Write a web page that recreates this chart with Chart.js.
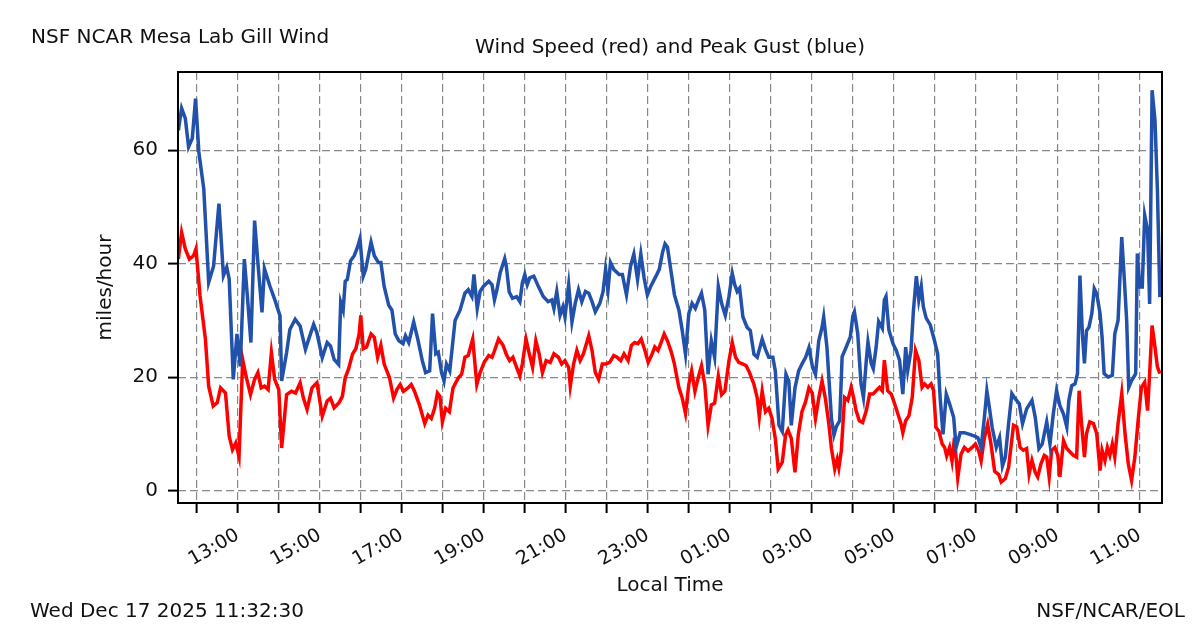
<!DOCTYPE html>
<html>
<head>
<meta charset="utf-8">
<title>NSF NCAR Mesa Lab Gill Wind</title>
<script src="https://cdn.jsdelivr.net/npm/chart.js@4.4.1/dist/chart.umd.min.js"></script>
<style>
  body { margin: 0; background: #fff; }
  #wrap { position: relative; width: 1200px; height: 633px; font-family: "DejaVu Sans", sans-serif; color: #111; }
  #wrap canvas { position: absolute; left: 0; top: 0; }
  .lbl { position: absolute; font-size: 20px; line-height: 24px; white-space: nowrap; }
</style>
</head>
<body>
<div id="wrap">
  <canvas id="windChart" width="1200" height="633"></canvas>
  <div class="lbl" style="left:31px; top:24px;">NSF NCAR Mesa Lab Gill Wind</div>
  <div class="lbl" style="left:178px; width:984px; top:34px; text-align:center;">Wind Speed (red) and Peak Gust (blue)</div>
  <div class="lbl" style="left:30px; top:598px;">Wed Dec 17 2025 11:32:30</div>
  <div class="lbl" style="right:15px; top:598px;">NSF/NCAR/EOL</div>
</div>
<script>
// time axis in hours since midnight Dec 16 (values > 24 are Dec 17)
const startHour = 11 + 32.5 / 60;
const endHour = startHour + 24;
const hourTicks = [12, 13, 14, 15, 16, 17, 18, 19, 20, 21, 22, 23,
                   24, 25, 26, 27, 28, 29, 30, 31, 32, 33, 34, 35];
const mphTicks = [0, 20, 40, 60];

// peak gust (blue)
const gustHours = [11.55, 11.63, 11.72, 11.80, 11.89, 11.97, 12.05, 12.17, 12.29, 12.41,
  12.54, 12.65, 12.73, 12.79, 12.89, 12.98, 13.06, 13.16, 13.24, 13.32,
  13.41, 13.49, 13.59, 13.65, 13.78, 13.90, 14.03, 14.07, 14.19, 14.27,
  14.40, 14.52, 14.65, 14.73, 14.85, 14.93, 15.06, 15.18, 15.26, 15.35,
  15.46, 15.51, 15.57, 15.62, 15.67, 15.75, 15.84, 15.92, 15.98, 16.06,
  16.12, 16.25, 16.33, 16.43, 16.49, 16.57, 16.68, 16.76, 16.84, 16.93,
  17.03, 17.09, 17.17, 17.29, 17.39, 17.50, 17.58, 17.68, 17.75, 17.83,
  17.89, 17.97, 18.03, 18.09, 18.17, 18.30, 18.42, 18.54, 18.62, 18.71,
  18.76, 18.84, 18.91, 18.99, 19.12, 19.20, 19.26, 19.32, 19.40, 19.51,
  19.55, 19.62, 19.70, 19.80, 19.88, 19.94, 20.00, 20.06, 20.12, 20.22,
  20.33, 20.45, 20.57, 20.66, 20.71, 20.78, 20.86, 20.93, 20.98, 21.07,
  21.15, 21.23, 21.31, 21.39, 21.48, 21.56, 21.64, 21.72, 21.83, 21.91,
  21.97, 22.03, 22.09, 22.17, 22.30, 22.38, 22.48, 22.58, 22.66, 22.75,
  22.83, 22.91, 22.99, 23.07, 23.20, 23.28, 23.36, 23.42, 23.48, 23.57,
  23.65, 23.76, 23.84, 23.92, 24.00, 24.08, 24.16, 24.24, 24.31, 24.39,
  24.47, 24.55, 24.63, 24.72, 24.80, 24.89, 24.98, 25.06, 25.12, 25.18,
  25.24, 25.32, 25.42, 25.50, 25.59, 25.67, 25.79, 25.87, 25.95, 26.05,
  26.11, 26.20, 26.28, 26.37, 26.44, 26.50, 26.59, 26.68, 26.76, 26.85,
  26.93, 27.02, 27.09, 27.17, 27.25, 27.29, 27.37, 27.48, 27.54, 27.60,
  27.68, 27.74, 27.84, 27.94, 28.00, 28.04, 28.12, 28.20, 28.26, 28.33,
  28.37, 28.45, 28.50, 28.57, 28.63, 28.72, 28.77, 28.81, 28.88, 28.98,
  29.06, 29.14, 29.22, 29.29, 29.34, 29.42, 29.48, 29.55, 29.61, 29.67,
  29.72, 29.79, 29.89, 29.99, 30.07, 30.13, 30.20, 30.28, 30.36, 30.46,
  30.52, 30.62, 30.72, 30.85, 30.97, 31.05, 31.13, 31.21, 31.27, 31.33,
  31.40, 31.50, 31.58, 31.65, 31.72, 31.80, 31.88, 31.96, 32.06, 32.14,
  32.24, 32.37, 32.45, 32.54, 32.62, 32.73, 32.81, 32.89, 32.97, 33.05,
  33.14, 33.22, 33.27, 33.34, 33.42, 33.48, 33.54, 33.60, 33.65, 33.70,
  33.76, 33.83, 33.89, 33.95, 34.03, 34.08, 34.13, 34.23, 34.33, 34.39,
  34.47, 34.56, 34.62, 34.68, 34.73, 34.80, 34.90, 34.94, 35.00, 35.06,
  35.12, 35.19, 35.24, 35.30, 35.37, 35.43, 35.49];
const gustMph = [63.5, 67.4, 65.6, 60.6, 62.1, 69.1, 59.7, 53.2, 36.7, 39.6,
  50.6, 37.9, 39.4, 37.3, 19.6, 27.6, 21.9, 40.8, 33.7, 26.1,
  47.6, 40.2, 31.4, 39.1, 36.1, 33.7, 30.8, 19.3, 24.3, 28.4,
  30.2, 29.0, 24.9, 26.7, 29.3, 27.8, 23.4, 26.1, 25.5, 23.1,
  22.2, 33.2, 31.8, 36.9, 37.2, 40.5, 41.4, 42.9, 44.4, 37.8,
  39.0, 43.8, 41.4, 40.2, 40.2, 36.0, 32.7, 31.8, 27.6, 26.4,
  25.9, 27.3, 26.1, 29.7, 26.7, 22.9, 20.8, 21.1, 31.2, 24.1,
  24.4, 20.8, 19.3, 22.3, 21.1, 30.0, 31.8, 34.8, 35.4, 34.2,
  38.1, 32.1, 35.1, 36.0, 36.9, 36.3, 33.6, 35.4, 38.4, 40.9,
  39.5, 35.0, 33.9, 34.2, 33.3, 36.6, 38.1, 36.3, 37.5, 37.8,
  36.0, 34.2, 33.3, 33.6, 32.1, 35.1, 30.9, 32.4, 30.6, 36.3,
  29.7, 33.0, 35.4, 33.3, 35.1, 34.8, 33.3, 31.5, 33.0, 35.1,
  39.0, 35.4, 40.2, 39.0, 38.1, 38.1, 34.5, 39.6, 41.7, 37.2,
  41.7, 37.5, 34.5, 36.0, 37.8, 39.0, 42.0, 43.5, 42.9, 38.5,
  34.5, 31.8, 28.2, 24.0, 31.2, 33.0, 32.1, 33.6, 34.8, 31.8,
  20.5, 26.4, 23.5, 36.0, 33.0, 30.9, 34.2, 38.3, 36.3, 35.1,
  35.7, 30.6, 28.8, 28.2, 24.0, 23.5, 26.7, 24.9, 23.5, 23.5,
  21.1, 11.5, 10.4, 20.5, 19.3, 11.5, 18.1, 21.1, 22.3, 23.5,
  25.2, 21.7, 20.5, 26.4, 28.8, 30.6, 25.2, 12.7, 9.8, 11.3,
  12.3, 23.6, 25.3, 27.1, 30.7, 31.5, 27.7, 18.8, 16.4, 23.0,
  26.2, 22.4, 21.5, 25.3, 29.8, 28.6, 33.6, 34.2, 28.3, 25.9,
  24.7, 23.0, 17.0, 25.3, 21.2, 24.7, 31.8, 37.8, 33.6, 36.0,
  32.4, 30.4, 29.2, 26.5, 24.1, 16.4, 9.9, 17.0, 15.3, 12.9,
  7.6, 10.2, 10.2, 9.9, 9.6, 9.3, 7.6, 12.9, 17.6, 14.7,
  11.1, 7.6, 9.3, 4.3, 5.9, 11.8, 17.1, 16.2, 15.3, 11.8,
  14.4, 15.9, 12.9, 7.4, 8.2, 12.1, 8.2, 13.5, 17.6, 15.0,
  13.5, 11.2, 15.9, 18.5, 18.8, 20.6, 37.9, 27.6, 22.4, 28.2,
  28.8, 31.2, 35.6, 34.7, 31.2, 27.1, 20.6, 20.0, 20.3, 27.6,
  30.0, 44.7, 37.6, 30.0, 18.2, 19.4, 20.6, 41.8, 35.9, 35.9,
  48.5, 45.9, 32.9, 70.6, 65.3, 52.9, 34.1];

// wind speed (red)
const speedHours = [11.55, 11.63, 11.72, 11.82, 11.92, 11.98, 12.08, 12.21, 12.29, 12.40,
  12.50, 12.58, 12.70, 12.79, 12.87, 12.95, 13.03, 13.12, 13.20, 13.31,
  13.41, 13.49, 13.57, 13.65, 13.74, 13.82, 13.90, 14.00, 14.07, 14.19,
  14.31, 14.41, 14.52, 14.60, 14.69, 14.81, 14.93, 15.06, 15.18, 15.26,
  15.35, 15.47, 15.55, 15.62, 15.70, 15.80, 15.88, 15.96, 16.00, 16.06,
  16.14, 16.25, 16.33, 16.41, 16.49, 16.57, 16.70, 16.80, 16.88, 16.96,
  17.04, 17.15, 17.23, 17.31, 17.43, 17.56, 17.64, 17.72, 17.80, 17.87,
  17.93, 17.99, 18.07, 18.16, 18.25, 18.38, 18.46, 18.54, 18.62, 18.73,
  18.83, 18.91, 19.01, 19.12, 19.20, 19.25, 19.36, 19.47, 19.55, 19.63,
  19.71, 19.80, 19.88, 19.94, 20.03, 20.11, 20.19, 20.27, 20.35, 20.43,
  20.52, 20.62, 20.71, 20.82, 20.90, 20.98, 21.07, 21.11, 21.19, 21.27,
  21.35, 21.43, 21.56, 21.64, 21.72, 21.80, 21.89, 21.97, 22.07, 22.17,
  22.25, 22.34, 22.42, 22.52, 22.60, 22.68, 22.76, 22.84, 22.93, 23.01,
  23.09, 23.17, 23.25, 23.34, 23.40, 23.48, 23.57, 23.65, 23.68, 23.76,
  23.84, 23.92, 24.00, 24.07, 24.15, 24.23, 24.31, 24.39, 24.47, 24.55,
  24.63, 24.72, 24.80, 24.88, 24.98, 25.06, 25.14, 25.22, 25.32, 25.40,
  25.48, 25.59, 25.67, 25.72, 25.79, 25.87, 25.95, 26.03, 26.11, 26.18,
  26.28, 26.36, 26.42, 26.50, 26.59, 26.67, 26.76, 26.85, 26.93, 27.01,
  27.09, 27.17, 27.25, 27.33, 27.42, 27.48, 27.56, 27.62, 27.66, 27.72,
  27.80, 27.88, 27.96, 28.02, 28.08, 28.16, 28.24, 28.33, 28.41, 28.49,
  28.57, 28.65, 28.72, 28.77, 28.85, 28.94, 29.02, 29.10, 29.18, 29.22,
  29.29, 29.37, 29.45, 29.53, 29.61, 29.69, 29.75, 29.83, 29.91, 29.97,
  30.03, 30.10, 30.18, 30.24, 30.29, 30.36, 30.42, 30.48, 30.56, 30.64,
  30.72, 30.81, 30.91, 30.99, 31.07, 31.13, 31.21, 31.29, 31.37, 31.46,
  31.56, 31.62, 31.72, 31.80, 31.92, 32.00, 32.08, 32.16, 32.24, 32.30,
  32.37, 32.45, 32.51, 32.59, 32.67, 32.73, 32.79, 32.85, 32.93, 33.00,
  33.05, 33.14, 33.22, 33.30, 33.38, 33.46, 33.52, 33.58, 33.65, 33.70,
  33.78, 33.87, 33.95, 34.03, 34.08, 34.15, 34.21, 34.27, 34.33, 34.39,
  34.47, 34.56, 34.64, 34.72, 34.80, 34.88, 34.96, 35.04, 35.12, 35.19,
  35.24, 35.30, 35.37, 35.43, 35.49];
const speedMph = [40.8, 45.5, 42.6, 40.8, 41.4, 42.6, 34.3, 26.7, 18.4, 14.9,
  15.5, 18.1, 17.2, 9.6, 7.2, 8.4, 6.0, 23.1, 20.2, 16.9,
  19.6, 20.8, 18.1, 18.4, 17.8, 24.3, 19.6, 17.8, 7.5, 16.9,
  17.5, 17.2, 19.0, 16.3, 14.3, 18.1, 19.0, 13.1, 15.8, 16.3,
  14.6, 15.5, 16.6, 19.9, 21.4, 24.1, 25.0, 27.6, 30.9, 25.0,
  25.3, 27.6, 27.0, 23.5, 25.6, 22.3, 19.9, 16.3, 17.8, 18.7,
  17.5, 18.1, 18.7, 17.5, 15.1, 11.8, 13.3, 12.7, 14.5, 17.2,
  16.6, 12.1, 14.5, 13.9, 18.1, 19.9, 20.5, 23.5, 23.8, 26.7,
  18.7, 20.8, 22.6, 23.8, 23.5, 24.4, 26.7, 25.6, 24.0, 22.9,
  23.5, 21.7, 20.2, 22.3, 26.7, 24.1, 21.7, 26.4, 24.1, 20.8,
  22.9, 22.6, 24.1, 23.5, 22.3, 22.9, 21.7, 18.4, 22.3, 24.7,
  22.9, 24.1, 27.3, 24.7, 20.8, 19.6, 22.3, 22.3, 22.6, 23.8,
  23.5, 22.9, 24.1, 22.9, 25.6, 26.1, 25.9, 26.7, 24.7, 22.6,
  23.8, 25.3, 24.7, 26.4, 27.6, 26.4, 24.5, 22.3, 21.1, 18.1,
  16.3, 13.6, 18.7, 21.1, 17.5, 19.9, 22.0, 18.7, 11.5, 15.1,
  15.4, 20.2, 16.9, 17.5, 22.9, 26.1, 23.5, 22.6, 22.3, 22.0,
  20.8, 18.7, 16.3, 13.0, 17.5, 13.9, 14.5, 12.7, 9.2, 3.8,
  5.0, 9.8, 10.7, 9.2, 3.2, 9.8, 13.9, 15.7, 18.1, 17.2,
  12.7, 16.3, 19.3, 16.3, 11.5, 7.4, 3.8, 5.5, 4.0, 7.0,
  16.4, 15.9, 18.2, 16.4, 14.1, 12.3, 12.0, 14.1, 17.0, 17.0,
  17.6, 18.2, 17.6, 23.0, 17.6, 17.0, 15.3, 13.5, 11.7, 10.2,
  12.3, 13.2, 16.4, 24.7, 23.0, 18.2, 18.8, 18.2, 18.8, 17.6,
  11.1, 10.5, 8.2, 7.6, 6.1, 7.6, 5.2, 9.3, 2.2, 6.4,
  7.6, 7.0, 7.6, 8.2, 7.0, 5.2, 9.3, 11.7, 8.2, 3.4,
  2.8, 1.5, 2.1, 4.1, 11.5, 11.2, 7.6, 7.1, 7.4, 2.9,
  5.3, 3.2, 2.4, 4.7, 6.2, 5.9, 2.4, 7.1, 7.6, 6.2,
  2.4, 8.8, 7.4, 6.8, 6.2, 5.9, 17.6, 11.8, 5.9, 10.0,
  12.1, 11.8, 10.0, 3.5, 7.1, 5.3, 7.6, 6.2, 8.2, 5.9,
  11.8, 17.1, 10.0, 4.7, 1.8, 5.9, 12.4, 18.2, 19.1, 14.1,
  20.6, 29.1, 25.3, 21.8, 20.6];

Chart.defaults.font.family = '"DejaVu Sans", sans-serif';
Chart.defaults.font.size = 20;
Chart.defaults.color = '#111';

function hourLabel(h) {
    if (h % 2 === 0) return '';
    return String(h % 24).padStart(2, '0') + ':00';
}

// black box round the plot, like the matplotlib spines
const frame = {
    id: 'frame',
    afterDraw(chart) {
        const { ctx, chartArea: a } = chart;
        ctx.save();
        ctx.strokeStyle = '#000';
        ctx.lineWidth = 2;
        ctx.strokeRect(a.left, a.top, a.right - a.left, a.bottom - a.top);
        ctx.restore();
    }
};

const gridStyle = { color: '#888', lineWidth: 1.2, tickLength: 10, tickColor: '#000', tickWidth: 2 };

const ctx = document.getElementById('windChart').getContext('2d');
new Chart(ctx, {
    type: 'line',
    data: {
        datasets: [
            {
                label: 'Peak Gust',
                data: gustHours.map((h, i) => ({ x: h, y: gustMph[i] })),
                borderColor: '#2151ab',
                borderWidth: 3.5,
                pointRadius: 0,
                tension: 0
            },
            {
                label: 'Wind Speed',
                data: speedHours.map((h, i) => ({ x: h, y: speedMph[i] })),
                borderColor: '#ff0000',
                borderWidth: 3.5,
                pointRadius: 0,
                tension: 0
            }
        ]
    },
    options: {
        responsive: false,
        animation: false,
        layout: { padding: { top: 72, right: 38, left: 0, bottom: 0 } },
        plugins: {
            legend: { display: false },
            tooltip: { enabled: false }
        },
        scales: {
            x: {
                type: 'linear',
                min: startHour,
                max: endHour,
                afterBuildTicks: (axis) => { axis.ticks = hourTicks.map(v => ({ value: v })); },
                afterFit: (axis) => { axis.height = 130; },
                grid: gridStyle,
                border: { display: false, dash: [8, 4] },
                ticks: {
                    autoSkip: false,
                    minRotation: 30,
                    maxRotation: 30,
                    padding: 11,
                    font: { size: 19 },
                    callback: (v) => hourLabel(v)
                },
                title: { display: true, text: 'Local Time', padding: { top: 0, bottom: 35 } }
            },
            y: {
                min: -2.2,
                max: 73.8,
                afterBuildTicks: (axis) => { axis.ticks = mphTicks.map(v => ({ value: v })); },
                afterFit: (axis) => { axis.width = 178; },
                grid: gridStyle,
                border: { display: false, dash: [8, 4] },
                ticks: { padding: 10 },
                title: { display: true, text: 'miles/hour', padding: { top: 94, bottom: 0 } }
            }
        }
    },
    plugins: [frame]
});
</script>
</body>
</html>
